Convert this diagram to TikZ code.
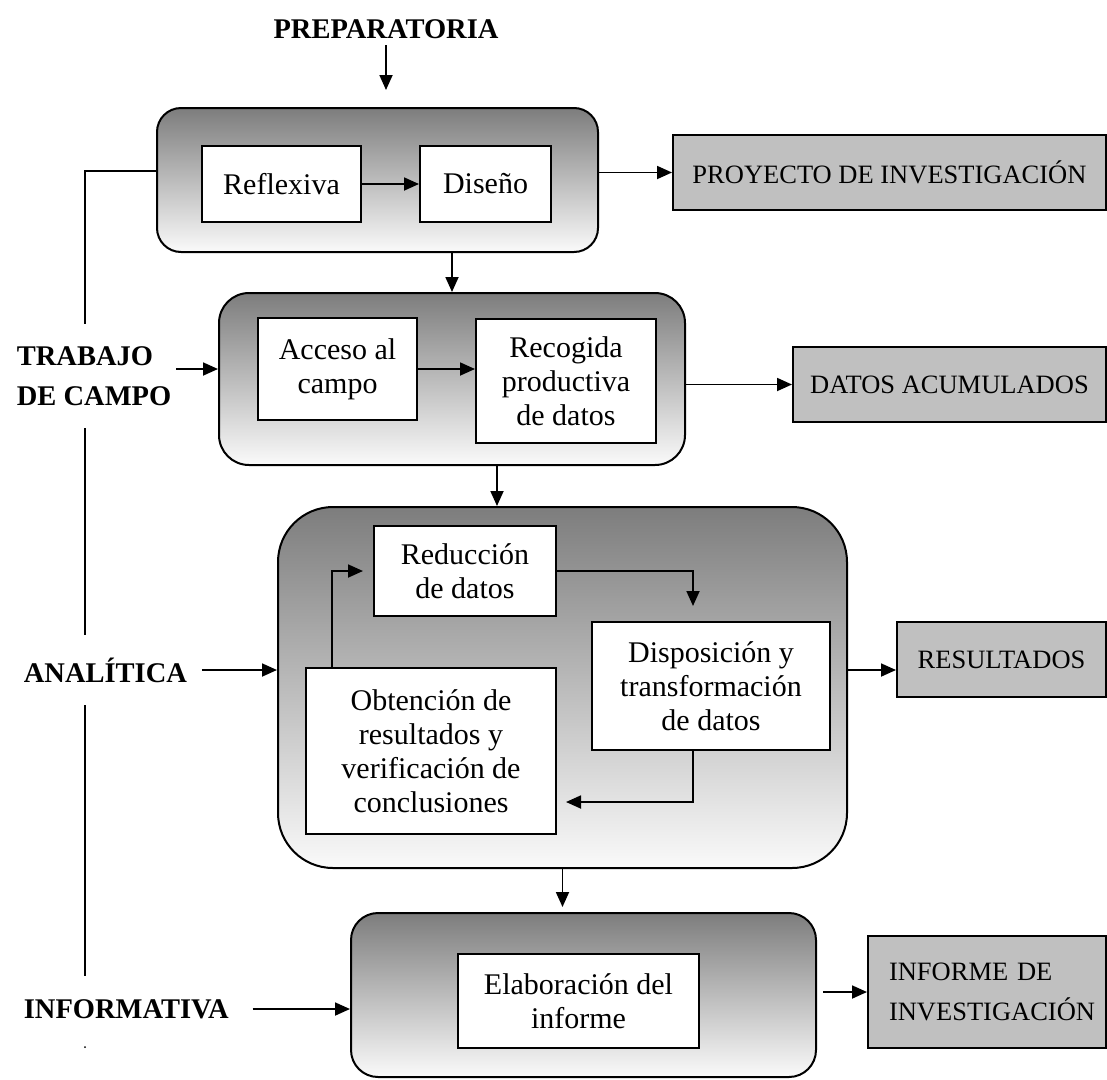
\documentclass[tikz,border=0pt]{standalone}
\usepackage{fontspec}
\setmainfont{Liberation Serif}
\usetikzlibrary{arrows.meta}

\definecolor{grisosc}{RGB}{125,125,125}
\definecolor{grisclaro}{RGB}{250,250,250}
\definecolor{grissal}{RGB}{192,192,192}

\tikzset{every picture/.style={line width=1.8pt}}
\tikzset{
  fase/.style={draw, line width=2pt, top color=grisosc, bottom color=grisclaro, inner sep=0pt},
  caja/.style={draw, fill=white, line width=2pt, inner sep=0pt, align=center, font=\fontsize{30}{34}\selectfont},
  salida/.style={draw, fill=grissal, line width=2pt, inner sep=0pt, font=\fontsize{26.5}{40}\selectfont},
  etapa/.style={inner xsep=4pt, inner ysep=22pt, align=left, font=\bfseries\fontsize{28.5}{40}\selectfont},
  flecha/.style={-{Triangle[length=15pt,width=13pt]}, line width=1.8pt}
}

\begin{document}
\begin{tikzpicture}[x=1pt,y=1pt,yscale=-1,xscale=1]
\useasboundingbox (0,0) rectangle (1107,1079);

%Shape: Rounded Rectangle
\node[fase, rounded corners=24pt, minimum width=441pt, minimum height=144pt] (fase1) at (377.5,180) {};
%Shape: Rounded Rectangle
\node[fase, rounded corners=30pt, minimum width=466pt, minimum height=172pt] (fase2) at (452,379) {};
%Shape: Rounded Rectangle
\node[fase, rounded corners=55pt, minimum width=569pt, minimum height=361pt] (fase3) at (562.5,687.5) {};
%Shape: Rounded Rectangle
\node[fase, rounded corners=27pt, minimum width=465pt, minimum height=164pt] (fase4) at (583.5,995) {};

% Text Node
\node[etapa, inner ysep=6pt, align=center] (prep) at (386,29) {PREPARATORIA};
% Text Node
\node[etapa, anchor=west] (trabajo) at (12,376) {TRABAJO\\DE CAMPO};
% Text Node
\node[etapa, anchor=west] (analitica) at (19,670) {ANALÍTICA};
% Text Node
\node[etapa, anchor=west] (informativa) at (19,1009) {INFORMATIVA};

% Text Node
\node[caja, minimum width=159pt, minimum height=76pt] (reflexiva) at (281.5,184) {Reflexiva};
% Text Node
\node[caja, minimum width=131pt, minimum height=76pt] (diseno) at (485.5,184) {Diseño};
% Text Node
\node[caja, minimum width=159pt, minimum height=102pt] (acceso) at (337.5,369) {Acceso al\\campo};
% Text Node
\node[caja, minimum width=180pt, minimum height=124pt] (recogida) at (566,381) {Recogida\\productiva\\de datos};
% Text Node
\node[caja, minimum width=182pt, minimum height=90pt] (reduccion) at (465,571) {Reducción\\de datos};
% Text Node
\node[caja, minimum width=238pt, minimum height=128pt] (disposicion) at (711,686) {Disposición y\\transformación\\de datos};
% Text Node
\node[caja, minimum width=250pt, minimum height=166pt] (obtencion) at (431,751) {Obtención de\\resultados y\\verificación de\\conclusiones};
% Text Node
\node[caja, minimum width=241pt, minimum height=94pt] (elaboracion) at (578.5,1001) {Elaboración del\\informe};

% Text Node
\node[salida, minimum width=433pt, minimum height=75pt] (proyecto) at (889.5,172.5) {PROYECTO DE INVESTIGACIÓN};
% Text Node
\node[salida, minimum width=313pt, minimum height=75pt] (datos) at (949.5,384.5) {DATOS ACUMULADOS};
% Text Node
\node[salida, minimum width=209pt, minimum height=75pt] (resultados) at (1001.5,659.5) {RESULTADOS};
% Text Node
\node[salida, minimum width=238pt, minimum height=112pt, text width=196pt, align=left, inner xsep=21pt] (informe) at (987,992) {INFORME DE\\INVESTIGACIÓN};

%Straight Lines
\draw[flecha, shorten >=17pt] (prep.south) -- (prep.south |- fase1.north);
\draw[flecha] (reflexiva) -- (diseno);
\draw[flecha] (fase1.east |- proyecto) -- (proyecto.west);
\coordinate (riel) at (85,171);
\draw (fase1.west |- riel) -- (riel) -- (riel |- trabajo.north);
\draw (riel |- trabajo.south) -- (riel |- analitica.north);
\draw (riel |- analitica.south) -- (riel |- informativa.north);
\fill (85,1047) circle (1pt);

\draw[flecha] (fase1.south -| fase2.north) -- (fase2.north);
\draw[flecha] (trabajo.east |- acceso) -- (fase2.west |- acceso);
\draw[flecha] (acceso) -- (acceso -| recogida.west);
\draw[flecha] (fase2.east |- datos) -- (datos.west);
\draw[flecha] ([xshift=45pt]fase2.south) -- ([xshift=45pt]fase2.south |- fase3.north);

\draw[flecha, shorten <=10pt] (analitica.east) -- (fase3.west |- analitica);
\draw[flecha, shorten >=15pt] (reduccion.east) -| ([xshift=-18pt]disposicion.north);
\draw[flecha, shorten >=9pt] ([xshift=-18pt]disposicion.south) |- ([yshift=51pt]obtencion.east);
\draw[flecha, shorten >=10pt] ([xshift=-99pt]obtencion.north) |- (reduccion.west);
\draw[flecha] (fase3.east |- analitica) -- (resultados.west |- analitica);

\draw[flecha, shorten >=5pt] (fase3.south) -- (fase3.south |- fase4.north);
\draw[flecha, shorten <=19pt] (informativa.east) -- (fase4.west |- informativa);
\draw[flecha, shorten <=6pt] (fase4.east |- informe) -- (informe.west);

\end{tikzpicture}
\end{document}
